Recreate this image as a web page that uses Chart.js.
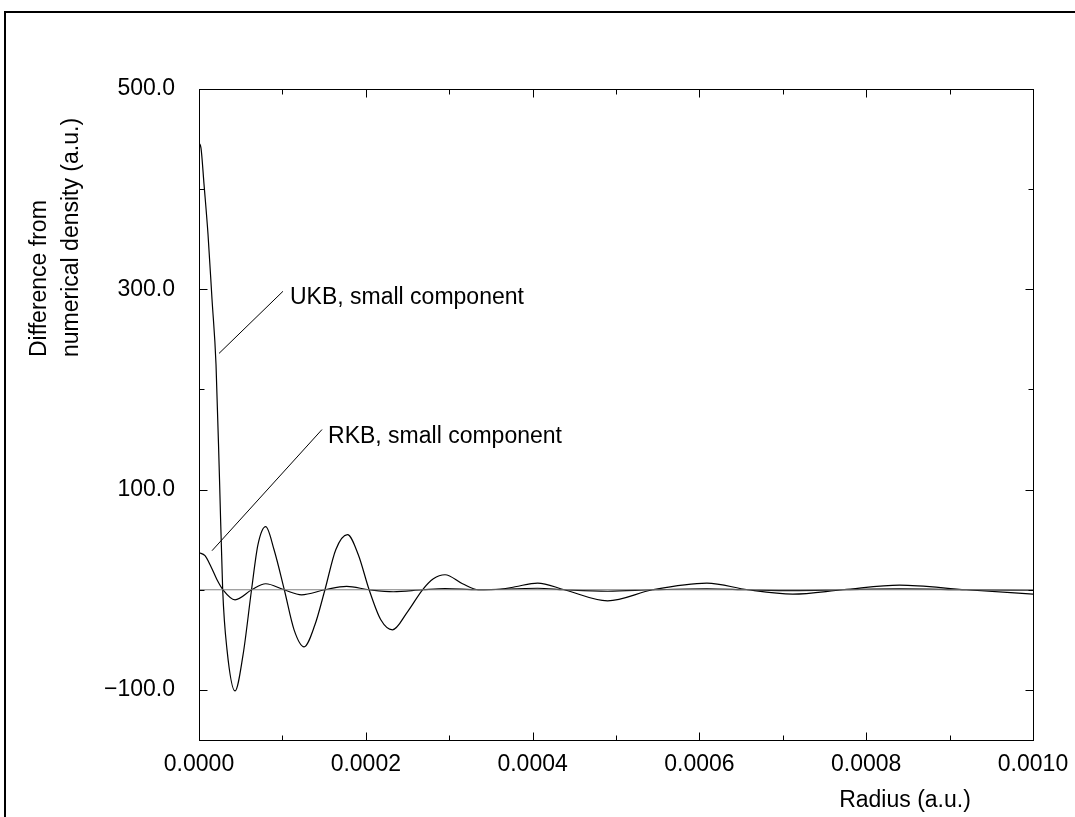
<!DOCTYPE html>
<html>
<head>
<meta charset="utf-8">
<script src="https://cdn.jsdelivr.net/npm/chart.js@4.4.0/dist/chart.umd.min.js"></script>
<style>
  html, body { margin: 0; padding: 0; background: #fff; }
  #wrap { width: 1075px; height: 817px; }
</style>
</head>
<body>
<div id="wrap"><canvas id="chart" width="1075" height="817"></canvas></div>
<script>
// UKB, small component
const radiusUKB = [0, 0.0000024, 0.000006, 0.0000108, 0.0000156, 0.0000204, 0.0000246, 0.0000284,
  0.0000336, 0.0000432, 0.0000528, 0.000063, 0.0000707, 0.00008, 0.00009, 0.0001023, 0.000114,
  0.000126, 0.000139, 0.000151, 0.000164, 0.000178, 0.000191, 0.000204, 0.000218, 0.000232,
  0.00025, 0.000268, 0.000281, 0.000295, 0.000316, 0.000335, 0.000361, 0.000379, 0.000406,
  0.000438, 0.00049, 0.000544, 0.000609, 0.000658, 0.000712, 0.000772, 0.00084, 0.00092, 0.001];
const diffUKB = [446, 441, 405, 355, 290, 225, 110, 0,
  -60, -101, -65, 0, 45, 63, 40, 0, -40,
  -57, -35, 0, 40, 55, 35, 0, -30, -40,
  -22, 0, 11, 15, 6, 0, 0.5, 3, 6.7,
  0, -11, 0, 6.7, 0, -4.3, 0, 4.7, 0, -4.3];

// RKB, small component
const radiusRKB = [0, 0.0000072, 0.0000144, 0.0000216, 0.0000288, 0.0000432, 0.0000632, 0.00008,
  0.000102, 0.000123, 0.000151, 0.000177, 0.000204, 0.000233, 0.000268, 0.000295, 0.000335,
  0.000406, 0.000438, 0.00049, 0.000544, 0.000609, 0.000658, 0.000712, 0.000772, 0.00084, 0.00092, 0.001];
const diffRKB = [37, 34, 23, 10, 0, -10, 0, 6,
  0, -5, 0, 3.3, 0, -2, 0, 1.2, 0,
  1.5, 0, -1.5, 0, 1, 0, -0.8, 0, 0.8, 0, -0.5];

// reference line at zero
const radiusZero = [0, 0.001];
const diffZero = [0, 0];

const xTicks = [0, 0.0001, 0.0002, 0.0003, 0.0004, 0.0005, 0.0006, 0.0007, 0.0008, 0.0009, 0.001];
const xLabels = ['0.0000', '0.0002', '0.0004', '0.0006', '0.0008', '0.0010'];
const yTicks = [-100, 0, 100, 200, 300, 400, 500];
const yLabels = ['\u2212100.0', '100.0', '300.0', '500.0'];

const FONT = '"Liberation Sans", Arial, Helvetica, sans-serif';
const FSIZE = 23;

function fmtY(v) { return v.toFixed(1).replace('-', '\u2212'); }
function fmtX(v) { return v.toFixed(4); }

function pts(xs, ys) { return xs.map((x, i) => ({ x: x, y: ys[i] })); }

// callouts, positioned in data units
const notes = [
  { text: 'UKB, small component', at: [0.0001091, 292], from: [0.0001007, 298], to: [0.000024, 236] },
  { text: 'RKB, small component', at: [0.0001547, 153], from: [0.0001475, 160], to: [0.0000156, 39] }
];

const decor = {
  id: 'decor',
  afterDraw(chart) {
    const ctx = chart.ctx;
    const a = chart.chartArea;
    const xs = chart.scales.x, ys = chart.scales.y;
    ctx.save();

    // outer frame (top and left only, rest is cut off)
    ctx.strokeStyle = '#000';
    ctx.lineWidth = 2;
    ctx.beginPath();
    ctx.moveTo(5, 817);
    ctx.lineTo(5, 12);
    ctx.lineTo(1075, 12);
    ctx.stroke();

    // plot box
    ctx.lineWidth = 1;
    const L = Math.round(a.left) + 0.5, R = Math.round(a.right) + 0.5;
    const T = Math.round(a.top) + 0.5, B = Math.round(a.bottom) + 0.5;
    ctx.strokeRect(L, T, R - L, B - T);

    // inward ticks
    ctx.beginPath();
    xs.ticks.forEach(t => {
      const px = Math.round(xs.getPixelForValue(t.value)) + 0.5;
      const len = xLabels.includes(fmtX(t.value)) ? 8 : 5;
      ctx.moveTo(px, B); ctx.lineTo(px, B - len);
      ctx.moveTo(px, T); ctx.lineTo(px, T + len);
    });
    ys.ticks.forEach(t => {
      const py = Math.round(ys.getPixelForValue(t.value)) + 0.5;
      const len = yLabels.includes(fmtY(t.value)) ? 8 : 5;
      ctx.moveTo(L, py); ctx.lineTo(L + len, py);
      ctx.moveTo(R, py); ctx.lineTo(R - len, py);
    });
    ctx.stroke();

    // callouts
    ctx.fillStyle = '#000';
    ctx.font = FSIZE + 'px ' + FONT;
    ctx.textBaseline = 'middle';
    ctx.textAlign = 'left';
    notes.forEach(n => {
      ctx.beginPath();
      ctx.moveTo(xs.getPixelForValue(n.from[0]), ys.getPixelForValue(n.from[1]));
      ctx.lineTo(xs.getPixelForValue(n.to[0]), ys.getPixelForValue(n.to[1]));
      ctx.stroke();
      ctx.fillText(n.text, xs.getPixelForValue(n.at[0]), ys.getPixelForValue(n.at[1]));
    });

    // axis titles
    ctx.textAlign = 'center';
    ctx.fillText('Radius (a.u.)', 905, 801);

    ctx.save();
    ctx.translate(40, 357);
    ctx.rotate(-Math.PI / 2);
    ctx.textAlign = 'left';
    ctx.fillText('Difference from', 0, 0);
    ctx.fillText('numerical density (a.u.)', 0, 32);
    ctx.restore();

    ctx.restore();
  }
};

const lineStyle = { borderColor: '#000', borderWidth: 1.2, pointRadius: 0, cubicInterpolationMode: 'monotone', fill: false };

new Chart(document.getElementById('chart'), {
  type: 'line',
  data: {
    datasets: [
      { label: 'zero', data: pts(radiusZero, diffZero), borderColor: '#808080', borderWidth: 1, pointRadius: 0 },
      Object.assign({ label: 'UKB, small component', data: pts(radiusUKB, diffUKB) }, lineStyle),
      Object.assign({ label: 'RKB, small component', data: pts(radiusRKB, diffRKB) }, lineStyle)
    ]
  },
  options: {
    responsive: false,
    devicePixelRatio: 1,
    animation: false,
    layout: { padding: { left: 99, right: 42, top: 89, bottom: 37 } },
    plugins: { legend: { display: false }, tooltip: { enabled: false }, title: { display: false } },
    scales: {
      x: {
        type: 'linear',
        min: 0,
        max: 0.001,
        grid: { display: false },
        border: { display: false },
        afterBuildTicks: s => { s.ticks = xTicks.map(v => ({ value: v })); },
        afterFit: s => { s.height = 40; },
        ticks: {
          autoSkip: false,
          maxRotation: 0,
          padding: 3,
          color: '#000',
          font: { family: FONT, size: FSIZE },
          callback: v => { const s = fmtX(v); return xLabels.includes(s) ? s : ''; }
        }
      },
      y: {
        type: 'linear',
        min: -150,
        max: 500,
        grid: { display: false },
        border: { display: false },
        afterBuildTicks: s => { s.ticks = yTicks.map(v => ({ value: v })); },
        afterFit: s => { s.width = 100; },
        ticks: {
          autoSkip: false,
          padding: 16,
          color: '#000',
          font: { family: FONT, size: FSIZE },
          callback: v => { const s = fmtY(v); return yLabels.includes(s) ? s : ''; }
        }
      }
    }
  },
  plugins: [decor]
});
</script>
</body>
</html>
